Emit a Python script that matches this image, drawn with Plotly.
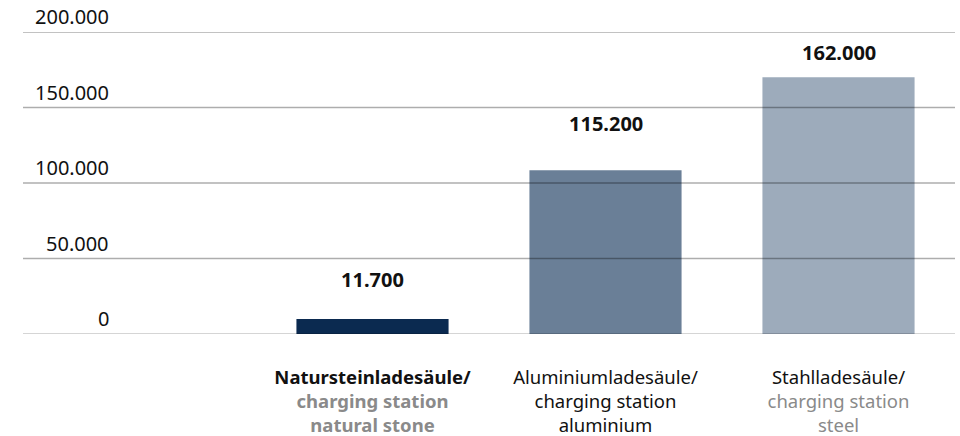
import plotly.graph_objects as go

# Data
positions = [1, 2, 3]
bar_heights = [10000, 108500, 170000]          # drawn bar heights
label_values = [11700, 115200, 162000]         # printed value labels
label_texts = ["11.700", "115.200", "162.000"]
bar_colors = ["#0b2a50", "#6a7f97", "#9dabbb"]
category_labels = [
    "<b>Natursteinladesäule/</b><br><b><span style='color:#8a8a8a'>charging station</span></b><br><b><span style='color:#8a8a8a'>natural stone</span></b>",
    "Aluminiumladesäule/<br>charging station<br>aluminium",
    "Stahlladesäule/<br><span style='color:#8a8a8a'>charging station</span><br><span style='color:#8a8a8a'>steel</span>",
]
y_ticks = [0, 50000, 100000, 150000, 200000]
y_tick_labels = ["0", "50.000", "100.000", "150.000", "200.000"]

FONT = "'Noto Sans', sans-serif"

fig = go.Figure()
fig.add_trace(go.Bar(
    x=positions, y=bar_heights, marker=dict(color=bar_colors, line=dict(width=0)),
    width=0.653, hoverinfo="skip",
))

# value labels
for xv, v, t in zip(positions, label_values, label_texts):
    fig.add_annotation(x=xv, y=v, text=f"<b>{t}</b>", showarrow=False,
                       yanchor="bottom", yshift=21,
                       font=dict(family=FONT, size=20, color="#111111"))

# gridlines above bars
for v in y_ticks:
    fig.add_shape(type="line", xref="paper", yref="y", x0=0, x1=1, y0=v, y1=v,
                  layer="above",
                  line=dict(color="rgba(0,0,0,0.22)" if v == 0 else "rgba(0,0,0,0.32)", width=1.5))

# y tick labels above gridlines, right aligned
for v, t in zip(y_ticks, y_tick_labels):
    fig.add_annotation(xref="paper", yref="y", x=0.094, y=v, text=t, showarrow=False,
                       xanchor="right", yanchor="bottom", yshift=0,
                       font=dict(family=FONT, size=20, color="#111111"))

fig.update_layout(
    width=960, height=436,
    margin=dict(l=23, r=5, t=32, b=102),
    paper_bgcolor="white", plot_bgcolor="white",
    showlegend=False,
    font=dict(family=FONT, size=18.5, color="#111111"),
    xaxis=dict(range=[-0.5, 3.5], tickvals=positions, ticktext=category_labels,
               showgrid=False, zeroline=False, showline=False, ticks="",
               tickfont=dict(family=FONT, size=18.5, color="#111111"),
               ticklabelstandoff=30, automargin=False, fixedrange=True),
    yaxis=dict(range=[0, 200000], showgrid=False, zeroline=False, showline=False,
               showticklabels=False, ticks="", automargin=False, fixedrange=True),
)

fig.write_html("out.html")
